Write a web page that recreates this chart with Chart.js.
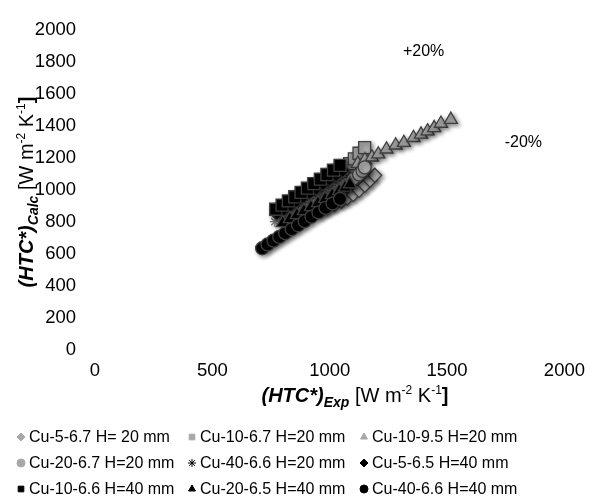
<!DOCTYPE html>
<html>
<head>
<meta charset="utf-8">
<script src="https://cdn.jsdelivr.net/npm/chart.js@4.4.1/dist/chart.umd.min.js"></script>
<style>
    html, body { margin: 0; padding: 0; background: #fff; }
    #wrap { width: 595px; height: 503px; position: relative; }
</style>
</head>
<body>
<div id="wrap"><canvas id="chart" width="595" height="503"></canvas></div>
<script>
/* ========================================
   HTC* calculated vs experimental — parity plot
   ======================================== */

// series names (legend order)
const seriesNames = [
    'Cu-5-6.7 H= 20 mm', 'Cu-10-6.7 H=20 mm', 'Cu-10-9.5 H=20 mm',
    'Cu-20-6.7 H=20 mm', 'Cu-40-6.6 H=20 mm', 'Cu-5-6.5 H=40 mm',
    'Cu-10-6.6 H=40 mm', 'Cu-20-6.5 H=40 mm', 'Cu-40-6.6 H=40 mm',
];

// W m-2 K-1
const cu5_67_h20_x = [960, 990, 1020, 1050, 1075, 1100, 1125, 1150, 1172, 1192];
const cu5_67_h20_y = [870, 890, 910, 930, 950, 972, 998, 1030, 1062, 1093];

const cu10_67_h20_x = [940, 970, 1000, 1030, 1060, 1085, 1105, 1125, 1149];
const cu10_67_h20_y = [1000, 1030, 1062, 1095, 1130, 1165, 1195, 1230, 1265];

const cu10_95_h20_x = [1120, 1150, 1180, 1207, 1242, 1281, 1316, 1357, 1389, 1417, 1445, 1474, 1516];
const cu10_95_h20_y = [1165, 1188, 1205, 1224, 1255, 1280, 1296, 1327, 1348, 1368, 1389, 1416, 1440];

const cu20_67_h20_x = [990, 1020, 1050, 1075, 1100, 1125, 1140, 1149];
const cu20_67_h20_y = [950, 980, 1010, 1040, 1070, 1098, 1120, 1142];

const cu40_66_h20_x = [766, 795, 825, 855, 885, 915, 945, 975, 1005, 1035, 1061];
const cu40_66_h20_y = [802, 826, 850, 874, 898, 922, 946, 970, 996, 1022, 1049];

const cu5_65_h40_x = [775, 803, 831, 859, 887, 915, 943, 971, 999, 1027, 1055];
const cu5_65_h40_y = [855, 880, 906, 932, 958, 985, 1012, 1039, 1067, 1095, 1123];

const cu10_66_h40_x = [770, 797, 824, 851, 878, 905, 932, 960, 988, 1016, 1044];
const cu10_66_h40_y = [880, 906, 932, 958, 985, 1012, 1040, 1068, 1097, 1125, 1154];

const cu20_65_h40_x = [800, 830, 860, 890, 920, 950, 980, 1010, 1040, 1065, 1086];
const cu20_65_h40_y = [795, 820, 845, 870, 895, 920, 945, 970, 995, 1017, 1037];

const cu40_66_h40_x = [712, 735, 760, 785, 810, 838, 865, 893, 922, 952, 982, 1012, 1044];
const cu40_66_h40_y = [636, 660, 684, 707, 730, 755, 780, 806, 833, 860, 888, 916, 945];

const xTicks = [0, 500, 1000, 1500, 2000];
const yTicks = [0, 200, 400, 600, 800, 1000, 1200, 1400, 1600, 1800, 2000];

// band labels, placed in data units
const bandLabels = [
    { text: '+20%', x: 1400, y: 1864 },
    { text: '-20%', x: 1825, y: 1296 },
];

const FONT = '"Liberation Sans", Arial, sans-serif';
const GRAY = '#a8a8a8';
const EDGE = '#3f3f3f';

const seriesX = [cu5_67_h20_x, cu10_67_h20_x, cu10_95_h20_x, cu20_67_h20_x, cu40_66_h20_x,
    cu5_65_h40_x, cu10_66_h40_x, cu20_65_h40_x, cu40_66_h40_x];
const seriesY = [cu5_67_h20_y, cu10_67_h20_y, cu10_95_h20_y, cu20_67_h20_y, cu40_66_h20_y,
    cu5_65_h40_y, cu10_66_h40_y, cu20_65_h40_y, cu40_66_h40_y];

const styles = [
    { shape: 'rectRot', fill: GRAY, r: 7 },
    { shape: 'rect', fill: GRAY, r: 8.5 },
    { shape: 'triangle', fill: GRAY, r: 7.5 },
    { shape: 'circle', fill: GRAY, r: 6.5 },
    { shape: 'star', fill: '#000', r: 5 },
    { shape: 'rectRot', fill: '#000', r: 7 },
    { shape: 'rect', fill: '#000', r: 8.5 },
    { shape: 'triangle', fill: '#000', r: 7.5 },
    { shape: 'circle', fill: '#000', r: 6.5 },
];

const datasets = seriesNames.map((name, i) => ({
    label: name,
    data: seriesX[i].map((x, k) => ({ x, y: seriesY[i][k] })),
    pointStyle: styles[i].shape,
    pointRadius: styles[i].r,
    backgroundColor: styles[i].fill,
    borderColor: styles[i].shape === 'star' ? '#777' : EDGE,
    borderWidth: 1.3,
    order: seriesNames.length - i,
}));

// soft drop shadow like the spreadsheet markers
const shadowPlugin = {
    id: 'shadow',
    beforeDatasetsDraw(chart) {
        const ctx = chart.ctx;
        ctx.save();
        ctx.shadowColor = 'rgba(0,0,0,0.45)';
        ctx.shadowBlur = 4;
        ctx.shadowOffsetX = 2;
        ctx.shadowOffsetY = 2;
    },
    afterDatasetsDraw(chart) {
        chart.ctx.restore();
    },
};

function drawRich(ctx, parts, cx, cy) {
    let total = 0;
    parts.forEach(p => { ctx.font = p.font; p.w = ctx.measureText(p.text).width; total += p.w; });
    let x = cx - total / 2;
    ctx.textBaseline = 'alphabetic';
    ctx.textAlign = 'left';
    parts.forEach(p => {
        ctx.font = p.font;
        ctx.fillText(p.text, x, cy + (p.dy || 0));
        x += p.w;
    });
}

function titleParts(sub) {
    return [
        { text: '(HTC*)', font: 'italic bold 20px ' + FONT },
        { text: sub, font: 'italic bold 14px ' + FONT, dy: 5 },
        { text: ' [W m', font: '20px ' + FONT },
        { text: '-2', font: '12px ' + FONT, dy: -8 },
        { text: ' K', font: '20px ' + FONT },
        { text: '-1', font: '12px ' + FONT, dy: -8 },
        { text: ']', font: 'bold 20px ' + FONT },
    ];
}

const decorPlugin = {
    id: 'decor',
    afterDraw(chart) {
        const ctx = chart.ctx;
        const xs = chart.scales.x, ys = chart.scales.y;
        ctx.save();
        ctx.fillStyle = '#000';

        // axis titles
        drawRich(ctx, titleParts('Exp'), 355, 402);
        ctx.save();
        ctx.translate(33, 192);
        ctx.rotate(-Math.PI / 2);
        drawRich(ctx, titleParts('Calc'), 0, 0);
        ctx.restore();

        // band labels
        ctx.font = '16px ' + FONT;
        ctx.textAlign = 'center';
        ctx.textBaseline = 'middle';
        bandLabels.forEach(b => ctx.fillText(b.text, xs.getPixelForValue(b.x), ys.getPixelForValue(b.y)));

        // legend, 3 columns
        const colX = [21, 192, 364];
        const rowY = [437, 463, 489];
        chart.data.datasets.forEach((ds, i) => {
            const cx = colX[i % 3], cy = rowY[Math.floor(i / 3)];
            ctx.fillStyle = ds.backgroundColor;
            ctx.strokeStyle = ds.pointStyle === 'star' ? '#000' : ds.backgroundColor;
            ctx.lineWidth = 1;
            Chart.helpers.drawPoint(ctx, { pointStyle: ds.pointStyle, radius: 4, rotation: 0, borderWidth: 1 }, cx, cy);
            ctx.fillStyle = '#000';
            ctx.font = '16px ' + FONT;
            ctx.textAlign = 'left';
            ctx.fillText(ds.label, cx + 8, cy + 1);
        });
        ctx.restore();
    },
};

new Chart(document.getElementById('chart'), {
    type: 'scatter',
    data: { datasets },
    options: {
        responsive: false,
        animation: false,
        layout: { padding: { top: 26, right: 29, bottom: 103, left: 0 } },
        plugins: { legend: { display: false }, tooltip: { enabled: false } },
        scales: {
            x: {
                type: 'linear', min: 0, max: 2000,
                afterBuildTicks: s => { s.ticks = xTicks.map(v => ({ value: v })); },
                afterFit: s => { s.height = 50; },
                ticks: { color: '#000', font: { family: FONT, size: 18.5 }, padding: 10, callback: v => String(v) },
                grid: { display: false, drawTicks: false },
                border: { display: false },
            },
            y: {
                type: 'linear', min: 0, max: 2000,
                afterBuildTicks: s => { s.ticks = yTicks.map(v => ({ value: v })); },
                afterFit: s => { s.width = 95; },
                ticks: { color: '#000', font: { family: FONT, size: 18.5 }, padding: 19, callback: v => String(v) },
                grid: { display: false, drawTicks: false },
                border: { display: false },
            },
        },
    },
    plugins: [shadowPlugin, decorPlugin],
});
</script>
</body>
</html>
